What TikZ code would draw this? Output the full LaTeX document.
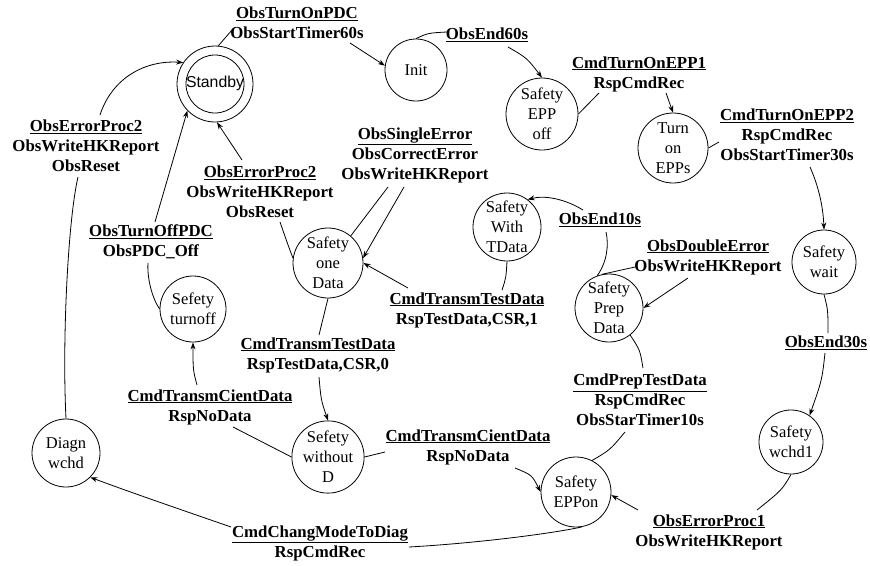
\documentclass[tikz,border=0pt]{standalone}
\usepackage{fontspec}
\setmainfont{Liberation Serif}
\newfontfamily\arialfont{Liberation Sans}
\usetikzlibrary{arrows.meta}
\begin{document}
\begin{tikzpicture}[x=1pt,y=-1pt,
  st/.style={circle,draw,line width=0.8pt,inner sep=0pt,align=center,font=\fontsize{16.5}{20}\selectfont},
  lab/.style={align=center,inner sep=0pt,font=\fontsize{16.8}{20}\selectfont\bfseries},
  ln/.style={line width=0.8pt},
  arr/.style={line width=0.8pt,-{Stealth[length=7pt,width=5pt]}}]
\useasboundingbox (0,0) rectangle (870,565);
% states
\node[st,minimum size=76pt] (standby) at (215,84) {};
\node[circle,draw,line width=0.8pt,inner sep=0pt,minimum size=58pt] (standbyin) at (standby) {};
\node[inner sep=0pt,font=\arialfont\fontsize{15.8}{19}\selectfont] (standbytxt) at (215,83) {Standby};
\node[st,minimum size=62pt] (init) at (416,70) {Init};
\node[st,minimum size=72pt] (eppoff) at (542,114) {Safety\\EPP\\off};
\node[st,minimum size=70pt] (turnon) at (673,148) {Turn\\on\\EPPs};
\node[st,minimum size=64pt] (wait) at (824,262) {Safety\\wait};
\node[st,minimum size=64pt] (wchd1) at (791,442) {Safety\\wchd1};
\node[st,minimum size=70pt] (eppon) at (576,492) {Safety\\EPPon};
\node[st,minimum size=68pt] (prep) at (609,308) {Safety\\Prep\\Data};
\node[st,minimum size=68pt] (tdata) at (507,227) {Safety\\With\\TData};
\node[st,minimum size=70pt] (onedata) at (328,263) {Safety\\one\\Data};
\node[st,minimum size=66pt] (turnoff) at (193,309) {Sefety\\turnoff};
\node[st,minimum size=70pt] (without) at (328,457) {Sefety\\without\\D};
\node[st,minimum size=68pt] (diagn) at (66,453) {Diagn\\wchd};
% labels
\node[lab] (l1) at (297,23) {\underline{ObsTurnOnPDC}\\ObsStartTimer60s};
\node[lab] (l2) at (487,35) {\underline{ObsEnd60s}};
\node[lab] (l3) at (639,74) {\underline{CmdTurnOnEPP1}\\RspCmdRec};
\node[lab] (l4) at (787,135) {\underline{CmdTurnOnEPP2}\\RspCmdRec\\ObsStartTimer30s};
\node[lab] (l5) at (826,343) {\underline{ObsEnd30s}};
\node[lab] (l6) at (709,532) {\underline{ObsErrorProc1}\\ObsWriteHKReport};
\node[lab] (l7) at (320,543) {\underline{CmdChangModeToDiag}\\RspCmdRec};
\node[lab] (l8) at (86,146) {\underline{ObsErrorProc2}\\ObsWriteHKReport\\ObsReset};
\node[lab] (l9) at (151,242) {\underline{ObsTurnOffPDC}\\ObsPDC\_Off};
\node[lab] (l10) at (260,192) {\underline{ObsErrorProc2}\\ObsWriteHKReport\\ObsReset};
\node[lab] (l11) at (415,155) {\underline{ObsSingleError}\\ObsCorrectError\\ObsWriteHKReport};
\node[lab] (l12) at (467,310) {\underline{CmdTransmTestData}\\RspTestData,CSR,1};
\node[lab] (l13) at (318,355) {\underline{CmdTransmTestData}\\RspTestData,CSR,0};
\node[lab] (l14) at (210,407) {\underline{CmdTransmCientData}\\RspNoData};
\node[lab] (l15) at (468,447) {\underline{CmdTransmCientData}\\RspNoData};
\node[lab] (l16) at (640,400) {\underline{CmdPrepTestData}\\RspCmdRec\\ObsStarTimer10s};
\node[lab] (l17) at (708,257) {\underline{ObsDoubleError}\\ObsWriteHKReport};
\node[lab] (l18) at (600,220) {\underline{ObsEnd10s}};
% connector end points near labels
\coordinate (a1) at (232,30);  \coordinate (b1) at (350,43);
\coordinate (a2) at (447,32);  \coordinate (b2) at (508,47);
\coordinate (a3) at (599,93);  \coordinate (b3) at (666,93);
\coordinate (a4) at (719,142); \coordinate (b4) at (810,167);
\coordinate (a5) at (828,333); \coordinate (b5) at (825,353);
\coordinate (a6) at (757,510); \coordinate (b6) at (638,510);
\coordinate (a7) at (409,547); \coordinate (b7) at (231,527);
\coordinate (a8) at (78,177);  \coordinate (b8) at (100,115);
\coordinate (a9) at (148,263); \coordinate (b9) at (155,222);
\coordinate (a10) at (280,222); \coordinate (b10) at (242,160);
\coordinate (a11) at (388,187); \coordinate (b11) at (404,187);
\coordinate (a12) at (502,290); \coordinate (b12) at (408,288);
\coordinate (a13) at (319,335); \coordinate (b13) at (319,377);
\coordinate (a14) at (233,427); \coordinate (b14) at (197,385);
\coordinate (a15) at (385,452); \coordinate (b15) at (515,468);
\coordinate (a16) at (625,432); \coordinate (b16) at (643,368);
\coordinate (a17) at (635,267); \coordinate (b17) at (688,278);
\coordinate (a18) at (606,232); \coordinate (b18) at (583,210);
% transitions
\draw[ln] (standby.85) -- (a1);
\draw[arr] (b1) -- (init.172);
\draw[ln] (init.north) .. controls (428,33) .. (a2);
\draw[arr] (b2) .. controls (527,58) .. (eppoff.north);
\draw[ln] (eppoff.east) -- (a3);
\draw[arr] (b3) -- (turnon.north);
\draw[ln] (turnon.east) -- (a4);
\draw[arr] (b4) .. controls (818,185) and (823,205) .. (wait.north);
\draw[ln] (wait.south) .. controls (828,310) .. (a5);
\draw[arr] (b5) .. controls (822,380) .. (wchd1.55);
\draw[ln] (wchd1.south) .. controls (782,490) .. (a6);
\draw[arr] (b6) -- (eppon.-5);
\draw[ln] (eppon.-80) .. controls (555,533) and (480,543) .. (a7);
\draw[arr] (b7) .. controls (185,511) and (135,494) .. (diagn.-45);
\draw[ln] (diagn.north) .. controls (62,340) and (68,220) .. (a8);
\draw[arr] (b8) .. controls (112,78) and (145,60) .. (standby.146);
\draw[ln] (turnoff.west) .. controls (152,298) and (147,278) .. (a9);
\draw[arr] (b9) -- (standby.224);
\draw[ln] (onedata.172) .. controls (288,245) .. (a10);
\draw[arr] (b10) -- (standby.-87);
\draw[ln] (onedata.50) -- (a11);
\draw[arr] (b11) -- (onedata.8);
\draw[ln] (tdata.south) .. controls (506,278) .. (a12);
\draw[arr] (b12) -- (onedata.east);
\draw[ln] (onedata.south) -- (a13);
\draw[arr] (b13) .. controls (321,400) .. (without.north);
\draw[ln] (without.west) -- (a14);
\draw[arr] (b14) .. controls (193,370) .. (turnoff.south);
\draw[ln] (without.east) -- (a15);
\draw[arr] (b15) .. controls (532,475) .. (eppon.west);
\draw[ln] (eppon.63) .. controls (610,450) .. (a16);
\draw[ln] (b16) .. controls (640,350) .. (prep.-52);
\draw[ln] (prep.102) -- (a17);
\draw[arr] (b17) -- (prep.east);
\draw[ln] (prep.110) .. controls (607,262) and (609,245) .. (a18);
\draw[arr] (b18) .. controls (565,199) and (545,195) .. (tdata.53);
\end{tikzpicture}
\end{document}
